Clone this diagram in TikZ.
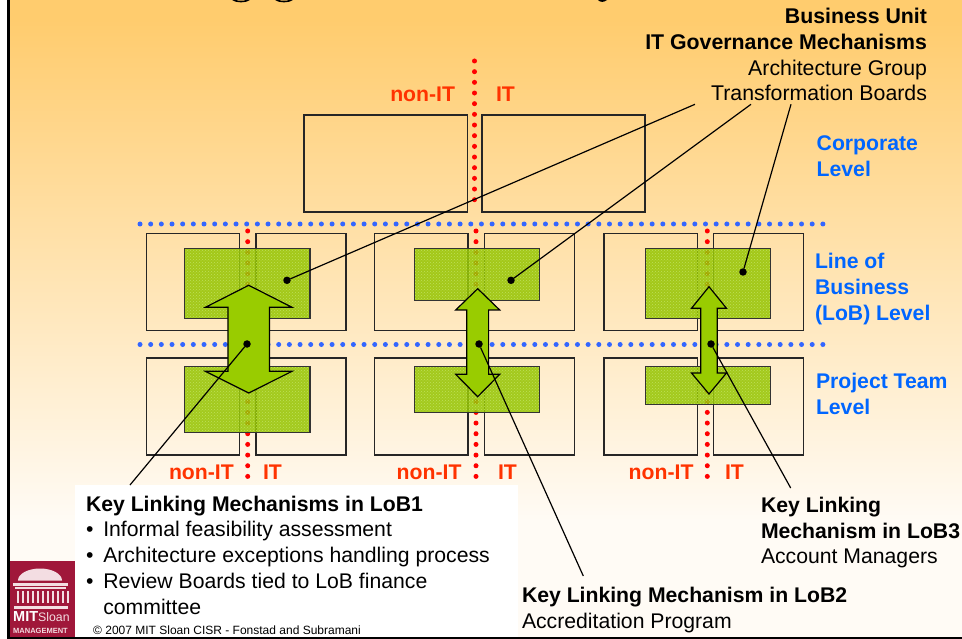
\documentclass[tikz,border=0pt]{standalone}
\usepackage{fontspec}
\setmainfont{Liberation Sans}
\usetikzlibrary{patterns}
\definecolor{bgtop}{HTML}{FFCC6E}
\definecolor{bgbot}{HTML}{FFFBF5}
\definecolor{dotblue}{HTML}{3366FF}
\definecolor{lvlblue}{HTML}{0066FF}
\definecolor{sideorange}{HTML}{FF3300}
\definecolor{greenbase}{HTML}{94C400}
\definecolor{greendot}{HTML}{BFE05A}
\definecolor{arrowgreen}{HTML}{99CC00}
\definecolor{mitred}{HTML}{A0173A}
\definecolor{mitpale}{HTML}{F3DDE2}
\tikzset{
  box/.style={draw=black!85,line width=1.3pt,inner sep=0pt,outer sep=0pt,anchor=north west},
  reddots/.style={draw=red,line width=5pt,line cap=round,dash pattern=on 0pt off 10.67pt},
  bluedots/.style={draw=dotblue,line width=5pt,line cap=round,dash pattern=on 0pt off 10.67pt},
  greenfill/.style={fill=greenbase,fill opacity=.86,draw=none},
  greenpat/.style={pattern=crosshatch dots,pattern color=greendot,draw=black!80,line width=1.2pt},
  dblarrow/.style={fill=arrowgreen,draw=black,line width=1.2pt,line join=miter},
  blackdot/.style={circle,fill=black,inner sep=0pt,minimum size=7.5pt,outer sep=0pt},
  leader/.style={draw=black,line width=1.2pt},
  txt/.style={inner sep=0pt,outer sep=0pt,anchor=base west,align=left,font=\fontsize{21.2}{25.7}\selectfont},
  txtr/.style={inner sep=0pt,outer sep=0pt,anchor=base east,align=right,font=\fontsize{21.3}{25.7}\selectfont},
  side/.style={txt,text=sideorange,font=\fontsize{21.2}{25.7}\selectfont\bfseries},
  lvl/.style={txt,text=lvlblue,font=\fontsize{21.2}{25.7}\selectfont\bfseries},
}
\newcommand{\bxx}[5]{\node[box,minimum width={(#4-#2)*1pt},minimum height={(#5-#3)*1pt}] (#1) at (#2,#3) {};}
\newcommand{\grn}[5]{%
  \fill[greenfill] (#1,#2) rectangle (#3,#4);
  \node[inner sep=0pt,outer sep=0pt,anchor=north west,greenpat,minimum width={(#3-#1)*1pt},minimum height={(#4-#2)*1pt}] (#5) at (#1,#2) {};}
% cx top headbase halfhead halfshaft lowbase tip
\newcommand{\darrow}[7]{\draw[dblarrow] (#1,#2) -- (#1+#4,#3) -- (#1+#5,#3) -- (#1+#5,#6) -- (#1+#4,#6) -- (#1,#7) -- (#1-#4,#6) -- (#1-#5,#6) -- (#1-#5,#3) -- (#1-#4,#3) -- cycle;}
\newcommand{\dotline}[4]{\coordinate (#1a) at (#2,#3); \coordinate (#1b) at (#2,#4); \draw[reddots] (#1a) -- (#1b);}
\begin{document}
\begin{tikzpicture}[x=1pt,y=-1pt]
\useasboundingbox (0,0) rectangle (962,639);
\fill[white] (0,0) rectangle (962,639);
\fill[bgtop] (9,0) rectangle (962,21);
\fill[bgbot] (9,519) rectangle (962,637);
\shade[top color=bgtop,bottom color=bgbot] (9,20) rectangle (962,520);
\fill[black] (7,0) rectangle (9.5,639);
\fill[black] (7,637) rectangle (962,639);
% title remnants cut off by the top edge
\fill[black] (232,0) .. controls (236,3.2) and (246,3.2) .. (250,0) -- (246,0) .. controls (244,1) and (238,1) .. (236,0) -- cycle;
\fill[black] (275,0) .. controls (279,3.2) and (289,3.2) .. (293,0) -- (289,0) .. controls (287,1) and (281,1) .. (279,0) -- cycle;
\fill[black] (598,0) .. controls (600,2.5) and (604,2.5) .. (607,0) -- cycle;
% red separators
\dotline{rt}{474.5}{61}{210}
\dotline{ra}{247.7}{231}{485}
\dotline{rb}{476}{231}{485}
\dotline{rc}{707.3}{231}{485}
% level separators
\coordinate (blA) at (140,224); \coordinate (blB) at (826,224);
\coordinate (blC) at (140,344.5); \coordinate (blD) at (826,344.5);
\draw[bluedots] (blA) -- (blB);
\draw[bluedots] (blC) -- (blD);
% boxes
\bxx{ctl}{304}{115}{467.5}{212}
\bxx{ctr}{482}{115}{645}{212}
\bxx{a1}{146.7}{233.3}{239.3}{330.3}
\bxx{a2}{256}{233.3}{346}{330.3}
\bxx{a3}{146.7}{358}{239.3}{455}
\bxx{a4}{256}{358}{346}{455}
\bxx{b1}{374.7}{233.3}{468}{330.3}
\bxx{b2}{484.3}{233.3}{574.3}{330.3}
\bxx{b3}{374.7}{358}{468}{455}
\bxx{b4}{484.3}{358}{574.3}{455}
\bxx{c1}{604}{233.3}{697.7}{330.3}
\bxx{c2}{713.7}{233.3}{803.7}{330.3}
\bxx{c3}{604}{358}{697.7}{455}
\bxx{c4}{713.7}{358}{803.7}{455}
% green blocks
\grn{184.7}{248.3}{310}{318.3}{ga}
\grn{184.7}{366.7}{310}{432.3}{gb}
\grn{414.3}{248.3}{539.7}{300.7}{gc}
\grn{414.3}{366.7}{539.7}{412.7}{gd}
\grn{645.3}{248.3}{770.7}{318.3}{ge}
\grn{645.3}{366.7}{770.7}{404.7}{gf}
% double arrows
\darrow{248.7}{285.3}{307.3}{43.3}{20.8}{371.3}{393}
\darrow{477.7}{288.7}{310}{22}{10.9}{374.3}{396.7}
\darrow{709}{286.7}{308.3}{17.5}{8.3}{373}{394}
% white text panel and logo
\fill[white] (75,485) rectangle (518,637);
\fill[mitred] (9.5,561) rectangle (75,637);
\fill[mitpale] (18,580.5) arc[start angle=180,end angle=360,x radius=22,y radius=12] -- cycle;
\fill[mitpale] (13,582.5) rectangle (68,585.5);
\fill[mitpale] (15,587) rectangle (66,588.5);
\foreach \cx in {16.5,21.5,...,66.5} {\fill[mitpale] (\cx,590.5) rectangle (\cx+2,603);}
\fill[mitpale] (14,606) rectangle (68,609);
\node[inner sep=0pt,anchor=base west,text=white,font=\fontsize{14.5}{15}\selectfont\bfseries] (mit) at (13,621.7) {MIT\textcolor{mitpale}{\mdseries\fontsize{12.3}{15}\selectfont Sloan}};
\node[inner sep=0pt,anchor=base west,text=mitpale,font=\fontsize{7.5}{8}\selectfont\bfseries] (mgmt) at (13,633) {MANAGEMENT};
% anchor dots
\node[blackdot] (da) at (287,280.3) {};
\node[blackdot] (db) at (511,280.3) {};
\node[blackdot] (dc) at (743,272) {};
\node[blackdot] (de) at (247,344) {};
\node[blackdot] (df) at (479,344) {};
\node[blackdot] (dg) at (711,344) {};
\coordinate (ua) at (695,104.3);
\coordinate (ub) at (751,104.3);
\coordinate (uc) at (791,104.3);
\coordinate (le) at (130,485);
\coordinate (lf) at (583.3,576);
\coordinate (lg) at (790.7,488);
\draw[leader] (da) -- (ua);
\draw[leader] (db) -- (ub);
\draw[leader] (dc) -- (uc);
\draw[leader] (de) -- (le);
\draw[leader] (df) -- (lf);
\draw[leader] (dg) -- (lg);
% side labels
\node[side,anchor=base east] (t1) at (455,102) {non-IT};
\node[side] (t2) at (496,102) {IT};
\node[side] (s1) at (169,479) {non-IT};
\node[side] (s2) at (263,479) {IT};
\node[side] (s3) at (396.7,479) {non-IT};
\node[side] (s4) at (498,479) {IT};
\node[side] (s5) at (628.7,479) {non-IT};
\node[side] (s6) at (725,479) {IT};
% level labels
\node[lvl] (l1) at (816.7,176.5) {Corporate\\Level};
\node[lvl] (l2) at (815,320) {Line of\\Business\\(LoB) Level};
\node[lvl] (l3) at (816,414) {Project Team\\Level};
% text blocks
\node[txtr] (gov) at (927,101) {\textbf{Business Unit}\\\textbf{IT Governance Mechanisms}\\Architecture Group\\Transformation Boards};
\node[txt] (k1) at (86,614) {\textbf{Key Linking Mechanisms in LoB1}\\\makebox[17.3pt][l]{•}Informal feasibility assessment\\\makebox[17.3pt][l]{•}Architecture exceptions handling process\\\makebox[17.3pt][l]{•}Review Boards tied to LoB finance\\\hspace*{17.3pt}committee};
\node[txt] (k2) at (522,628.3) {\textbf{Key Linking Mechanism in LoB2}\\Accreditation Program};
\node[txt] (k3) at (761,563.7) {\textbf{Key Linking}\\\textbf{Mechanism in LoB3}\\Account Managers};
\node[inner sep=0pt,anchor=base west,font=\fontsize{12}{14}\selectfont] (fn) at (93,634.3) {© 2007 MIT Sloan CISR - Fonstad and Subramani};
\end{tikzpicture}
\end{document}
